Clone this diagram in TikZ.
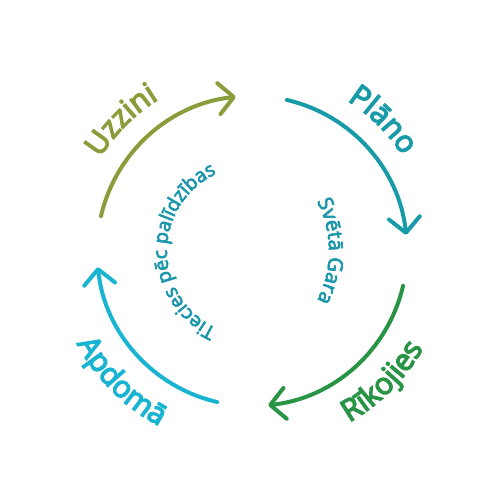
\documentclass[tikz,border=0pt]{standalone}
\usepackage{fontspec}
\setmainfont{Open Sans}
\newfontfamily\lblfont{Open Sans}[FakeBold=4.5]
\newfontfamily\innerfont{Open Sans}[FakeBold=3.5]
\usetikzlibrary{arrows.meta,decorations.text,calc}
\definecolor{cOlive}{RGB}{137,158,58}
\definecolor{cTeal}{RGB}{24,155,168}
\definecolor{cGreen}{RGB}{41,148,70}
\definecolor{cCyan}{RGB}{25,180,210}
\definecolor{cInner}{RGB}{28,150,170}
\begin{document}
\begin{tikzpicture}[x=1pt,y=1pt,
  arcline/.style={line width=4pt, line cap=round, -{Straight Barb[length=15pt,width=31pt,round]}},
  curvedtext/.style={decorate, decoration={text along path, text align=center, text={#1}}}
  ]
\fill[white] (0,0) rectangle (500,500);
\useasboundingbox (0,0) rectangle (500,500);
\coordinate (O) at (252,249);
\coordinate (O2) at (221,249);
% arrows
\coordinate (s1) at ($(O)+(167:155)$);
\coordinate (s2) at ($(O)+(77:155)$);
\coordinate (s3) at ($(O)+(-13:155)$);
\coordinate (s4) at ($(O)+(-103:155)$);
\draw[arcline, cOlive] (s1) arc[start angle=167, end angle=96, radius=155];
\draw[arcline, cTeal] (s2) arc[start angle=77, end angle=6, radius=155];
\draw[arcline, cGreen] (s3) arc[start angle=-13, end angle=-84, radius=155];
\draw[arcline, cCyan] (s4) arc[start angle=-103, end angle=-174, radius=155];
% outer labels
\path[curvedtext={|\fontsize{30}{30}\lblfont\color{cOlive}|Uzzini}] ($(O)+(180:178)$) arc[start angle=180, end angle=90, radius=178];
\path[curvedtext={|\fontsize{30}{30}\lblfont\color{cTeal}|Plāno}] ($(O)+(90:178)$) arc[start angle=90, end angle=0, radius=178];
\path[curvedtext={|\fontsize{30}{30}\lblfont\color{cGreen}|Rīkojies}] ($(O)+(-90:197)$) arc[start angle=-90, end angle=0, radius=197];
\path[curvedtext={|\fontsize{30}{30}\lblfont\color{cCyan}|Apdomā}] ($(O)+(-180:198)$) arc[start angle=-180, end angle=-90, radius=198];
% inner labels
\path[curvedtext={|\fontsize{19.5}{19.5}\innerfont\color{cInner}|Tiecies pēc palīdzības}] ($(O)+(-75:85)$) arc[start angle=-75, end angle=-285, radius=85];
\path[curvedtext={|\fontsize{20.5}{20.5}\innerfont\color{cInner}|Svētā Gara}] ($(O2)+(60:108)$) arc[start angle=60, end angle=-60, radius=108];
\end{tikzpicture}
\end{document}
